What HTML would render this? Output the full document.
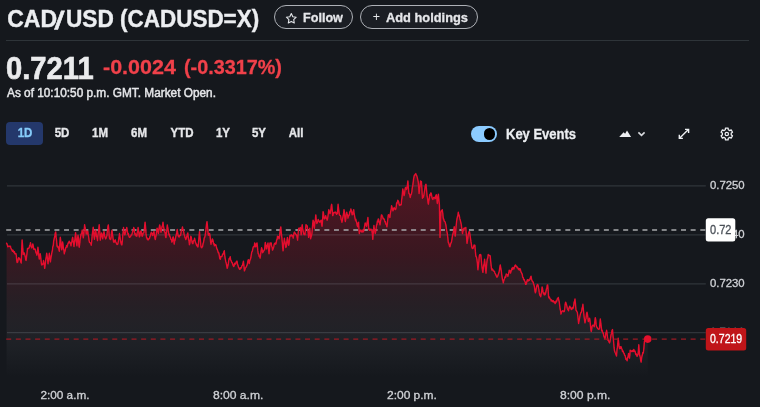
<!DOCTYPE html>
<html lang="en">
<head>
<meta charset="utf-8">
<title>CAD/USD (CADUSD=X)</title>
<style>
*{box-sizing:border-box;margin:0;padding:0}
html,body{width:760px;height:407px;overflow:hidden;background:#15181d}
body{font-family:"Liberation Sans",Arial,sans-serif;color:#e4e6ea;position:relative}
.t{position:absolute;white-space:nowrap;line-height:1;transform-origin:0 0}
.ti{top:7.8px;font-size:23px;font-weight:700;color:#eceef1;-webkit-text-stroke:.4px #eceef1}
#ta{left:7.2px;transform:scaleX(1.0)}
#tb{left:56.2px;top:7.6px;font-size:25px;transform-origin:50% 50%;transform:skewX(-9deg) scaleX(1.1);-webkit-text-stroke:.6px #eceef1}
#tc{left:66.2px;transform:scaleX(.985)}
#title2{left:119.5px;transform:scaleX(.977)}
.pill{position:absolute;top:5.35px;height:23.9px;border:1.35px solid #adb0b6;border-radius:12px;background:#1b1e24}
.pill span{position:absolute;white-space:nowrap;line-height:1;transform-origin:0 0;font-size:13px;font-weight:700;color:#e6e7ea;-webkit-text-stroke:.3px #e6e7ea}
#follow{left:273.6px;width:79.3px}
#add{left:360.4px;width:117.6px}
#hr{position:absolute;left:6.2px;top:39.9px;width:743px;height:1.2px;background:#2e3439}
#price{left:6.1px;top:53.0px;font-size:31.5px;font-weight:700;color:#eaebed;transform:scaleX(.926);-webkit-text-stroke:.65px #eaebed}
#chg{left:102.7px;top:57.3px;font-size:20px;font-weight:700;color:#f0414a;transform:scaleX(1.075);-webkit-text-stroke:.3px #f0414a}
#pct{left:184px;top:57.3px;font-size:20px;font-weight:700;color:#f0414a;transform:scaleX(.99);-webkit-text-stroke:.3px #f0414a}
#asof{left:7px;top:86.8px;font-size:12px;color:#e6e7ea;transform:scaleX(.985);-webkit-text-stroke:.45px #e6e7ea}
.tab{position:absolute;top:120.8px;height:24px;font-size:12.5px;font-weight:700;line-height:24px;text-align:center;color:#e6e7ea;transform:translateX(-50%) scaleX(.92);white-space:nowrap;-webkit-text-stroke:.35px}
#t1dbox{position:absolute;left:6.4px;width:36.9px;top:121.5px;height:23.2px;background:#24386b;border-radius:4px}
#t1d{color:#86ccfa}
#toggle{position:absolute;left:470.5px;top:126.1px;width:26.6px;height:15.7px;border-radius:8px;background:#8ccbff}
#toggle i{position:absolute;right:2px;top:2.1px;width:11.5px;height:11.5px;border-radius:50%;background:#000}
#ke{left:505.7px;top:127px;font-size:14px;font-weight:700;color:#eceef1;transform:scaleX(.928);-webkit-text-stroke:.3px}
svg{position:absolute;left:0;top:0}
.ax{font-family:"Liberation Sans",Arial,sans-serif;font-size:12px;fill:#d0d2d6;stroke:#d0d2d6;stroke-width:.3px}
</style>
</head>
<body>
<h1 style="font:inherit"><span class="t ti" id="ta">CAD</span><span class="t ti" id="tb">/</span><span class="t ti" id="tc">USD</span> <span class="t ti" id="title2">(CADUSD=X)</span></h1>
<div class="pill" id="follow"><span style="left:28.1px;top:4.7px;transform:scaleX(.97)">Follow</span></div>
<div class="pill" id="add"><span style="left:11.3px;top:5px;font-weight:400;font-size:12.5px;-webkit-text-stroke:0">+</span><span style="left:24.8px;top:4.7px;transform:scaleX(.9875)">Add holdings</span></div>
<div id="hr"></div>
<div class="t" id="price">0.7211</div>
<div class="t" id="chg">-0.0024</div>
<div class="t" id="pct">(-0.3317%)</div>
<div class="t" id="asof">As of 10:10:50 p.m. GMT. Market Open.</div>
<div id="t1dbox"></div><div class="tab" id="t1d" style="left:25px">1D</div>
<div class="tab" style="left:62px">5D</div>
<div class="tab" style="left:100px">1M</div>
<div class="tab" style="left:139px">6M</div>
<div class="tab" style="left:182px">YTD</div>
<div class="tab" style="left:223px">1Y</div>
<div class="tab" style="left:259px">5Y</div>
<div class="tab" style="left:296px">All</div>
<div id="toggle"><i></i></div>
<div class="t" id="ke">Key Events</div>
<svg id="chart" width="760" height="407" viewBox="0 0 760 407">
<defs>
<linearGradient id="g" x1="0" y1="175" x2="0" y2="377" gradientUnits="userSpaceOnUse">
<stop offset="0" stop-color="#e8102e" stop-opacity="0.30"/>
<stop offset="0.4" stop-color="#dc142f" stop-opacity="0.18"/>
<stop offset="0.65" stop-color="#a05560" stop-opacity="0.12"/>
<stop offset="0.85" stop-color="#b0b0b8" stop-opacity="0.055"/>
<stop offset="1" stop-color="#b0b0b8" stop-opacity="0"/>
</linearGradient>
<filter id="bl" x="-2%" y="-5%" width="104%" height="110%"><feGaussianBlur stdDeviation="0.45"/></filter>
</defs>
<!-- icons -->
<path d="M291.3 13.6l1.5 3.1 3.4.5-2.5 2.4.6 3.4-3-1.6-3 1.6.6-3.4-2.5-2.4 3.4-.5z" fill="none" stroke="#e4e6ea" stroke-width="1.1" stroke-linejoin="round"/>
<path d="M619.2 137.100L623.600 132.300L625.100 133.800L627 130.500L631.100 137.100z" fill="#eceef1"/>
<path d="M638.400 132.400l3.100 3 3.100-3" fill="none" stroke="#d8dade" stroke-width="1.6"/>
<path d="M679.800 137.950L688.100 129.850M685 129.400h3.600v3.600M682.900 138.400h-3.600v-3.600" fill="none" stroke="#eceef1" stroke-width="1.4"/>
<g fill="none" stroke="#eceef1" stroke-width="1.25" stroke-linejoin="round">
<circle cx="726.8" cy="134.0" r="1.7"/>
<path d="M725.33 129.75L725.45 128.15L728.15 128.15L728.27 129.75L729.75 130.60L731.19 129.91L732.54 132.25L731.22 133.14L731.22 134.86L732.54 135.75L731.19 138.09L729.75 137.40L728.27 138.25L728.15 139.85L725.45 139.85L725.33 138.25L723.85 137.40L722.41 138.09L721.06 135.75L722.38 134.86L722.38 133.14L721.06 132.25L722.41 129.91L723.85 130.60Z"/>
</g>
<g class="ax">
<text x="709.9" y="188.95" style="font-size:11.2px" textLength="34.8" lengthAdjust="spacingAndGlyphs">0.7250</text>
<text x="709.9" y="238.05" style="font-size:11.2px" textLength="34.8" lengthAdjust="spacingAndGlyphs">0.7240</text>
<text x="709.9" y="287.15" style="font-size:11.2px" textLength="34.8" lengthAdjust="spacingAndGlyphs">0.7230</text>
<text x="709.9" y="335.75" style="font-size:11.2px" textLength="34.8" lengthAdjust="spacingAndGlyphs">0.7220</text>
<text x="40.4" y="399.3" style="font-size:11.4px" textLength="49.1" lengthAdjust="spacingAndGlyphs">2:00 a.m.</text>
<text x="212.9" y="399.3" style="font-size:11.4px" textLength="50.5" lengthAdjust="spacingAndGlyphs">8:00 a.m.</text>
<text x="387.0" y="399.3" style="font-size:11.4px" textLength="49.9" lengthAdjust="spacingAndGlyphs">2:00 p.m.</text>
<text x="560.0" y="399.3" style="font-size:11.4px" textLength="50.4" lengthAdjust="spacingAndGlyphs">8:00 p.m.</text>
</g>
<!-- series -->
<path d="M6.6 243.2 L8.2 246.5 L9.9 246.1 L11.9 249.9 L13.9 252.5 L15.9 253.6 L17.2 262.5 L18.6 257.8 L19.9 259.8 L21.2 263.1 L22.1 239.9 L23.2 254.5 L24.5 253.8 L26.1 260.5 L27.5 248.5 L29.2 247.9 L30.5 242.6 L31.8 247.9 L32.8 243.9 L33.8 249.2 L35.5 250.5 L36.9 255.2 L37.9 247.2 L39.3 259.1 L40.2 253.8 L41.4 263.8 L42.7 264.4 L43.5 260.5 L44.7 268.4 L45.8 259.1 L46.7 253.2 L48 263.8 L49.3 253.2 L50.4 261.8 L52.4 250.5 L54.1 239.2 L55.7 231.9 L57 245.9 L58.4 247.9 L59.3 251.2 L60.3 237.3 L61.7 249.9 L62.6 241.9 L64.3 253.8 L65.6 247.9 L67.6 245.2 L69.2 241.2 L71 245.9 L72.7 237.3 L74 246.5 L75.6 232.6 L76.9 245.9 L78 235.3 L79.2 247.2 L80.6 236.6 L82.2 230 L83.3 237.9 L84.6 224.7 L86.2 233.9 L87.8 231.3 L89.1 240.6 L91.2 245.2 L93.2 227.3 L94.4 239.2 L95.5 230 L97.5 240.6 L99.2 224.7 L100.3 240.1 L101.6 232.9 L102.7 238.8 L104 231.5 L105.6 238.8 L106.9 235.5 L108.3 224.9 L109.3 236.8 L110.6 239.5 L112 230.2 L113.6 242.1 L114.9 240.1 L116.2 242.8 L117.8 244.1 L119.5 233.5 L120.6 241.5 L121.9 244.8 L123.5 227.5 L124.8 234.8 L126.8 227.5 L127.9 234.2 L130.1 236.8 L132.1 233.5 L133.7 227.5 L135.1 234.8 L136.8 236.2 L138.1 227.5 L139.4 236.8 L140.8 230.9 L142.1 236.2 L143.8 232.9 L145.1 222.2 L146.5 237.5 L148.1 240.1 L150 236.2 L151.4 232.2 L152.7 235.5 L154 231.5 L155.3 239.5 L157.1 228.2 L158.4 233.5 L159.7 224.9 L161 232.2 L163 222.2 L164.4 231.5 L166 237.5 L167.3 224.9 L168.6 232.9 L169.9 236.8 L171.9 242.1 L173.2 236.8 L174.2 244.1 L175.9 236.2 L177.2 229.5 L178.6 236.8 L180.5 235.5 L182.5 226.9 L184.1 234.2 L185.8 239.5 L187.8 232.9 L189.4 244.8 L190.8 236.2 L192.5 243.5 L194.6 238.2 L196.4 244.8 L198 246.8 L199.5 231.6 L200.9 246.2 L202.2 246.8 L203.9 240.2 L205.6 232.2 L207 221.6 L208.3 234.9 L209.6 233.6 L211 244.2 L212.3 238.9 L214.4 245.8 L215.9 244.8 L217.4 249.7 L218.8 252.7 L219.8 258.6 L221.8 256.6 L224.3 250.7 L225.2 258.6 L227.2 268.4 L228.7 260.6 L230.2 256.6 L231.1 260.6 L233.6 266.5 L235.1 263.5 L237 261.1 L238.5 267.4 L240 269.4 L241.5 267.4 L243.4 261.1 L244.4 270.9 L246.4 266.5 L248.3 259.6 L249.3 263.5 L251.3 254.7 L252.8 248.8 L254.2 246.8 L254.7 242.9 L255.7 246.8 L257 242.9 L258.2 253.7 L260.1 258.1 L261.6 247.8 L262.6 252.7 L264.6 249.7 L265.3 242.4 L266.5 248.8 L268 242.9 L269 253.7 L270 242.9 L271.2 242.9 L272.5 250.1 L274.2 244.2 L276.2 242.9 L277.5 236.2 L279.1 238.9 L280.8 226.9 L282.2 241.5 L283.1 250.8 L284.4 238.2 L285.8 247.5 L286.3 246.7 L287.4 237.4 L288.7 245.4 L290 235.5 L291.6 234.8 L293.2 238.1 L294.5 232.1 L296.3 234.8 L297.6 240.1 L298.7 228.2 L300.3 227.5 L301.2 234.8 L302.2 224.8 L303.6 233.5 L304.9 234.8 L306 224.8 L307.3 226.2 L308.6 237.4 L309.8 228.2 L310.6 238.8 L311.9 233.5 L313.1 220.2 L314.4 228.2 L315.8 214.9 L316.8 223.5 L318.2 219.5 L319.7 222.2 L321.1 220.2 L322.1 226.2 L323.1 211.6 L324.4 218.9 L325.7 215.6 L327.2 220.2 L328.8 209.6 L330.1 213.6 L331.7 204.3 L332.7 215.6 L334.3 212.2 L336.1 212.9 L337.4 213.6 L338.1 204.3 L339.4 214.9 L340.7 216.2 L342 222.2 L344 209.6 L345.3 221.5 L346.7 212.2 L348 218.2 L349.3 214.9 L350.9 208.9 L352.2 214.9 L353.7 209.6 L355 218.2 L356.6 222.2 L357.7 226.8 L358.6 222.2 L359.3 233.5 L360.6 230.1 L361.9 232.1 L363.9 230.1 L365.2 222.9 L366.6 226.2 L367.9 217.5 L368.8 229.5 L370.5 230.1 L371.9 230.8 L372.8 239.4 L373.9 225.5 L375.2 233.5 L377.4 220.9 L378.7 219.5 L380 224.8 L381.4 214.9 L382.7 216.9 L384 218.9 L385.3 221.5 L386.9 226.8 L388.3 214.9 L389.9 217.5 L391.6 205.6 L392.9 210.9 L394.2 207.6 L395.6 209.6 L396.6 203 L397.8 200.3 L399.1 204.3 L401.2 204.8 L402.8 188.9 L404.1 195.5 L405.5 187.5 L406.5 189.5 L407.9 180.9 L408.9 193.5 L410.2 197.5 L411.8 192.2 L413.2 182.2 L414.5 174.9 L415.8 173.6 L417.1 176.9 L418.2 181.6 L419.1 193.5 L420.5 180.9 L421.4 181.6 L422.4 198.2 L423.8 195.5 L425.1 186.9 L426 184.2 L427.1 196.2 L428.4 204.1 L429.7 194.8 L431.1 192.9 L432.4 198.8 L433.7 197.5 L435 198.8 L436.4 194.8 L437.3 203.5 L438.4 194.2 L439.4 204.8 L440 237.4 L440.9 212.2 L442.2 209.6 L443.3 218.9 L444.6 221.5 L446 225.5 L447.3 233.5 L448.3 242.7 L449.9 246.7 L451.3 242.7 L452.6 234.8 L454.2 226.8 L455.2 236.1 L456.6 221.5 L458.3 212.2 L459.9 218.9 L461.2 224.2 L462.5 233.5 L463.9 228.2 L465.8 227.5 L467 243.3 L468.3 234 L469.6 232 L471 241.9 L472.3 248.6 L473.6 246.6 L474.9 245.3 L475.9 256.5 L476.9 259.2 L477.9 269.8 L479.3 255.9 L480.9 255.2 L482 267.1 L482.9 272.4 L484.6 259.2 L486 273.1 L486.9 261.8 L488.2 254.5 L490.2 255.9 L491.5 268.5 L492.9 269.8 L494.4 271.1 L497.3 276.9 L498.6 273.6 L500.3 265 L501.7 274.3 L503.3 282.9 L504.9 277.6 L506.6 274.3 L507.9 276.3 L509.2 270.3 L510.6 273 L511.9 268.3 L513.9 269 L515.5 265 L517.2 267.7 L518.5 269.6 L520.2 269 L521.8 273.6 L523.2 277.6 L524.7 280.9 L526.1 284.2 L527.8 279.6 L529.4 280.3 L531.1 276.3 L532.4 281.6 L534 284.9 L535.4 292.9 L536.7 286.2 L538 284.9 L539.3 292.9 L540.7 296.8 L542.1 286.9 L543.4 293.5 L545 294.8 L546.4 288.9 L547.7 284.9 L548.6 296.8 L549.9 298.8 L551.7 300.1 L553.7 301.5 L555.6 302.8 L557 300.1 L558.3 297.5 L559.6 304.8 L561 314.1 L562.7 310.8 L564.3 311.4 L565.6 302.1 L566.9 306.1 L568.5 310.8 L569.8 306.1 L571.3 309.6 L572.9 308.3 L575 299 L576 310.3 L577.3 312.2 L578.6 323.5 L579.9 316.2 L581.3 312.2 L582.9 304.3 L583.9 314.9 L585 322.9 L587 312.2 L588.3 321.5 L589.6 318.2 L591.2 331.5 L592.5 325.5 L594.2 326.9 L595.3 317.7 L596.6 326.9 L598.2 328.9 L599.5 328.3 L600.3 319 L601.7 330.9 L603.3 332.9 L604.9 338.9 L606.6 330.3 L607.9 340.2 L609.6 342.9 L611 334.9 L612.5 329.6 L613.6 341.5 L614.5 350.8 L616.5 356.1 L618.2 338.2 L619.4 348.2 L621.2 346.8 L622.5 351.5 L624.2 353.5 L625.5 357.4 L627.1 360.8 L628.5 353.5 L629.5 358.1 L630.2 350.1 L631.8 351.5 L633.8 349.5 L635.4 352.8 L636.7 355.5 L638 354.8 L638.8 344.8 L639.7 355.5 L641.1 362.1 L642.4 354.8 L643.7 350.1 L644.4 341.5 L645.7 339.5 L647.7 339.1 L647.7 377 L6.6 377 Z" fill="url(#g)"/>
<!-- grid -->
<g stroke="#d4e2f0" stroke-opacity=".14" stroke-width="1.3">
<line x1="7" y1="185.9" x2="705.8" y2="185.9"/>
<line x1="7" y1="234.9" x2="705.8" y2="234.9"/>
<line x1="7" y1="283.9" x2="705.8" y2="283.9"/>
<line x1="7" y1="332.6" x2="705.8" y2="332.6"/>
</g>
<line x1="6.2" y1="229.9" x2="706" y2="229.9" stroke="#a6a8ab" stroke-width="1.5" stroke-dasharray="5 4.64"/>
<path d="M6.6 243.2 L7 243.9 L7.4 245.01 L7.8 246.78 L8.2 246.5 L8.62 246.31 L9.05 246.32 L9.47 246.43 L9.9 246.1 L10.4 246.23 L10.9 248.03 L11.4 249.29 L11.9 249.9 L12.4 251.31 L12.9 250.14 L13.4 251.34 L13.9 252.5 L14.4 251.71 L14.9 253.86 L15.4 253.83 L15.9 253.6 L16.33 255.38 L16.77 260.79 L17.2 262.5 L17.67 262.14 L18.13 259.77 L18.6 257.8 L19.03 258.77 L19.47 258.24 L19.9 259.8 L20.33 259.64 L20.77 262.07 L21.2 263.1 L21.65 250.35 L22.1 239.9 L22.65 246.39 L23.2 254.5 L23.63 253.6 L24.07 252.81 L24.5 253.8 L24.9 255.38 L25.3 257 L25.7 259.72 L26.1 260.5 L26.57 256.55 L27.03 252.86 L27.5 248.5 L27.93 248.35 L28.35 248.62 L28.77 247.94 L29.2 247.9 L29.63 245.56 L30.07 245.66 L30.5 242.6 L30.93 245.66 L31.37 247.02 L31.8 247.9 L32.3 246.44 L32.8 243.9 L33.3 246.07 L33.8 249.2 L34.22 248.82 L34.65 249.3 L35.08 249.06 L35.5 250.5 L35.97 252.76 L36.43 253.37 L36.9 255.2 L37.4 252.1 L37.9 247.2 L38.37 250.87 L38.83 256.32 L39.3 259.1 L39.75 257.35 L40.2 253.8 L40.6 255.83 L41 259.71 L41.4 263.8 L41.83 265.07 L42.27 264.12 L42.7 264.4 L43.1 263.7 L43.5 260.5 L43.9 262.87 L44.3 264.66 L44.7 268.4 L45.25 264.09 L45.8 259.1 L46.25 256.87 L46.7 253.2 L47.13 256.13 L47.57 259.19 L48 263.8 L48.43 259.83 L48.87 257.94 L49.3 253.2 L49.85 258.17 L50.4 261.8 L50.9 257.98 L51.4 255.49 L51.9 252.29 L52.4 250.5 L52.83 246.53 L53.25 245.62 L53.67 241.19 L54.1 239.2 L54.5 237.53 L54.9 235.41 L55.3 232.92 L55.7 231.9 L56.13 237.17 L56.57 240.27 L57 245.9 L57.47 246.94 L57.93 246.24 L58.4 247.9 L58.85 249.34 L59.3 251.2 L59.8 243.5 L60.3 237.3 L60.77 240.9 L61.23 246.92 L61.7 249.9 L62.15 246.69 L62.6 241.9 L63.02 244.37 L63.45 248.85 L63.88 250.07 L64.3 253.8 L64.73 251.56 L65.17 250.79 L65.6 247.9 L66.1 247.59 L66.6 245.51 L67.1 247.15 L67.6 245.2 L68 243.45 L68.4 242.57 L68.8 242.91 L69.2 241.2 L69.65 241.93 L70.1 243.02 L70.55 243.62 L71 245.9 L71.42 242.68 L71.85 241.82 L72.28 238.78 L72.7 237.3 L73.13 240.63 L73.57 243.1 L74 246.5 L74.4 242.9 L74.8 240.74 L75.2 236.03 L75.6 232.6 L76.03 237.23 L76.47 242.42 L76.9 245.9 L77.45 239.78 L78 235.3 L78.4 238.37 L78.8 244.3 L79.2 247.2 L79.67 244.49 L80.13 239.48 L80.6 236.6 L81 234.14 L81.4 233.92 L81.8 232.8 L82.2 230 L82.75 233.16 L83.3 237.9 L83.73 234.67 L84.17 230.09 L84.6 224.7 L85 227.27 L85.4 229.1 L85.8 230.57 L86.2 233.9 L86.6 232.05 L87 233.8 L87.4 231.27 L87.8 231.3 L88.23 234.93 L88.67 236.87 L89.1 240.6 L89.52 242.36 L89.94 242.69 L90.36 242.82 L90.78 243.44 L91.2 245.2 L91.7 241.3 L92.2 235.13 L92.7 231.07 L93.2 227.3 L93.6 231.42 L94 236.15 L94.4 239.2 L94.95 234.9 L95.5 230 L96 232.08 L96.5 236.39 L97 237.18 L97.5 240.6 L97.92 235.37 L98.35 232.05 L98.78 228.53 L99.2 224.7 L99.75 231.26 L100.3 240.1 L100.73 236.86 L101.17 234.96 L101.6 232.9 L102.15 236.04 L102.7 238.8 L103.13 235.41 L103.57 233.57 L104 231.5 L104.4 234.34 L104.8 236.4 L105.2 237.38 L105.6 238.8 L106.03 238.2 L106.47 236.82 L106.9 235.5 L107.37 231.03 L107.83 227.22 L108.3 224.9 L108.8 229.6 L109.3 236.8 L109.73 238.77 L110.17 239.12 L110.6 239.5 L111.07 237.6 L111.53 232.06 L112 230.2 L112.4 233.53 L112.8 236.1 L113.2 239.72 L113.6 242.1 L114.03 240.96 L114.47 242.06 L114.9 240.1 L115.33 239.9 L115.77 242.02 L116.2 242.8 L116.6 243.74 L117 244.49 L117.4 244.39 L117.8 244.1 L118.22 241.98 L118.65 239.56 L119.08 237.23 L119.5 233.5 L120.05 237.11 L120.6 241.5 L121.03 243.08 L121.47 244.74 L121.9 244.8 L122.3 241.44 L122.7 235.93 L123.1 232.58 L123.5 227.5 L123.93 230.88 L124.37 232.56 L124.8 234.8 L125.3 233.3 L125.8 230.84 L126.3 229.54 L126.8 227.5 L127.35 231.13 L127.9 234.2 L128.34 233.63 L128.78 235.6 L129.22 237.04 L129.66 237.27 L130.1 236.8 L130.6 236.57 L131.1 234.86 L131.6 234.94 L132.1 233.5 L132.5 232.21 L132.9 230.35 L133.3 229.88 L133.7 227.5 L134.17 228.85 L134.63 233.02 L135.1 234.8 L135.53 233.93 L135.95 235.76 L136.38 235.8 L136.8 236.2 L137.23 232.6 L137.67 230.92 L138.1 227.5 L138.53 230.59 L138.97 234 L139.4 236.8 L139.87 235.93 L140.33 232.23 L140.8 230.9 L141.23 231.4 L141.67 233.92 L142.1 236.2 L142.53 235.84 L142.95 233.78 L143.38 232.87 L143.8 232.9 L144.23 230.39 L144.67 226.18 L145.1 222.2 L145.57 227.15 L146.03 233.42 L146.5 237.5 L146.9 237.7 L147.3 239.23 L147.7 238.67 L148.1 240.1 L148.57 238.95 L149.05 238.95 L149.53 238.25 L150 236.2 L150.47 235.86 L150.93 233.23 L151.4 232.2 L151.83 233.52 L152.27 233.92 L152.7 235.5 L153.13 233.22 L153.57 232.82 L154 231.5 L154.43 235.04 L154.87 237.74 L155.3 239.5 L155.75 237.22 L156.2 235.02 L156.65 230.44 L157.1 228.2 L157.53 229.11 L157.97 231.61 L158.4 233.5 L158.83 230.05 L159.27 227.02 L159.7 224.9 L160.13 227.11 L160.57 230.09 L161 232.2 L161.5 229.68 L162 226.72 L162.5 225.58 L163 222.2 L163.47 226.55 L163.93 228.28 L164.4 231.5 L164.8 231.89 L165.2 233.28 L165.6 236.97 L166 237.5 L166.43 232.11 L166.87 229.64 L167.3 224.9 L167.73 227.75 L168.17 229.74 L168.6 232.9 L169.03 234.96 L169.47 234.25 L169.9 236.8 L170.4 237.18 L170.9 239.33 L171.4 239.54 L171.9 242.1 L172.33 241.19 L172.77 237.88 L173.2 236.8 L173.7 239.52 L174.2 244.1 L174.62 240.95 L175.05 240.49 L175.47 238.04 L175.9 236.2 L176.33 234.3 L176.77 232.14 L177.2 229.5 L177.67 232.73 L178.13 235.56 L178.6 236.8 L179.07 236.95 L179.55 235.37 L180.03 235.76 L180.5 235.5 L181 232.51 L181.5 229.93 L182 228.98 L182.5 226.9 L182.9 229.28 L183.3 229.72 L183.7 231.78 L184.1 234.2 L184.53 235.12 L184.95 237.36 L185.38 238.23 L185.8 239.5 L186.3 238.15 L186.8 236.87 L187.3 234.27 L187.8 232.9 L188.2 236.63 L188.6 239.91 L189 240.75 L189.4 244.8 L189.87 243.06 L190.33 239.64 L190.8 236.2 L191.23 237.06 L191.65 239.73 L192.07 242 L192.5 243.5 L192.92 243.51 L193.34 241.06 L193.76 240.5 L194.18 240.25 L194.6 238.2 L195.05 240.62 L195.5 242.66 L195.95 243.06 L196.4 244.8 L196.8 245.69 L197.2 245.03 L197.6 246.88 L198 246.8 L198.5 242.56 L199 237.03 L199.5 231.6 L199.97 237.03 L200.43 240.59 L200.9 246.2 L201.33 247.44 L201.77 247.85 L202.2 246.8 L202.62 246.39 L203.05 243.6 L203.47 242.61 L203.9 240.2 L204.32 237.73 L204.75 237.27 L205.18 235.13 L205.6 232.2 L206.07 228.27 L206.53 224.05 L207 221.6 L207.43 225.88 L207.87 230.6 L208.3 234.9 L208.73 235.16 L209.17 234 L209.6 233.6 L210.07 235.91 L210.53 241.47 L211 244.2 L211.43 241.3 L211.87 241.45 L212.3 238.9 L212.72 239.43 L213.14 241.23 L213.56 243.79 L213.98 243.49 L214.4 245.8 L214.9 244.55 L215.4 245.18 L215.9 244.8 L216.4 247.01 L216.9 248.95 L217.4 249.7 L217.87 251.19 L218.33 252.86 L218.8 252.7 L219.3 255.63 L219.8 258.6 L220.3 259.27 L220.8 256.52 L221.3 256.38 L221.8 256.6 L222.22 255.69 L222.63 254.09 L223.05 254.24 L223.47 253.03 L223.88 251.74 L224.3 250.7 L224.75 255.54 L225.2 258.6 L225.7 261.21 L226.2 263.01 L226.7 265.64 L227.2 268.4 L227.7 266.7 L228.2 264.24 L228.7 260.6 L229.2 258.51 L229.7 258.85 L230.2 256.6 L230.65 259.82 L231.1 260.6 L231.52 261.65 L231.93 262.76 L232.35 262.77 L232.77 264.63 L233.18 265.52 L233.6 266.5 L234.1 265.77 L234.6 263.27 L235.1 263.5 L235.57 264.12 L236.05 262.34 L236.53 261.44 L237 261.1 L237.5 263.98 L238 265.46 L238.5 267.4 L239 268.04 L239.5 269.23 L240 269.4 L240.5 267.6 L241 268.17 L241.5 267.4 L241.97 265.6 L242.45 265.44 L242.93 263.78 L243.4 261.1 L243.9 265.4 L244.4 270.9 L244.9 269.73 L245.4 267.73 L245.9 267.43 L246.4 266.5 L246.88 265.6 L247.35 264.09 L247.83 261.26 L248.3 259.6 L248.8 261.07 L249.3 263.5 L249.8 260.5 L250.3 259.41 L250.8 258.01 L251.3 254.7 L251.8 251.77 L252.3 251.49 L252.8 248.8 L253.27 246.89 L253.73 246.67 L254.2 246.8 L254.7 242.9 L255.2 244.14 L255.7 246.8 L256.13 245.99 L256.57 243.74 L257 242.9 L257.4 246.12 L257.8 250.41 L258.2 253.7 L258.68 253.77 L259.15 256.5 L259.62 256.02 L260.1 258.1 L260.6 254.69 L261.1 250.58 L261.6 247.8 L262.1 249.46 L262.6 252.7 L263.1 252.03 L263.6 251.04 L264.1 250.13 L264.6 249.7 L264.95 245.82 L265.3 242.4 L265.7 244.61 L266.1 245.78 L266.5 248.8 L267 246.06 L267.5 245.21 L268 242.9 L268.5 248.66 L269 253.7 L269.5 248.38 L270 242.9 L270.4 243.81 L270.8 243.19 L271.2 242.9 L271.63 246.23 L272.07 247 L272.5 250.1 L272.93 249.25 L273.35 247.96 L273.77 246.72 L274.2 244.2 L274.7 243.4 L275.2 243.07 L275.7 244.32 L276.2 242.9 L276.63 239.93 L277.07 239.73 L277.5 236.2 L277.9 237.88 L278.3 236.6 L278.7 237.55 L279.1 238.9 L279.53 236.49 L279.95 232.27 L280.38 228.85 L280.8 226.9 L281.27 232.63 L281.73 236.43 L282.2 241.5 L282.65 246.9 L283.1 250.8 L283.53 245.63 L283.97 242.15 L284.4 238.2 L284.87 241.78 L285.33 243.15 L285.8 247.5 L286.3 246.7 L286.85 241.27 L287.4 237.4 L287.83 240.54 L288.27 243.8 L288.7 245.4 L289.13 243.32 L289.57 237.8 L290 235.5 L290.4 235.34 L290.8 235.82 L291.2 234.98 L291.6 234.8 L292 236.11 L292.4 235.64 L292.8 236.16 L293.2 238.1 L293.63 235.08 L294.07 232.9 L294.5 232.1 L294.95 232.91 L295.4 233.49 L295.85 234.3 L296.3 234.8 L296.73 235.65 L297.17 237.51 L297.6 240.1 L298.15 233.38 L298.7 228.2 L299.1 228.91 L299.5 229.12 L299.9 228.78 L300.3 227.5 L300.75 230.1 L301.2 234.8 L301.7 228.66 L302.2 224.8 L302.67 228.87 L303.13 230.5 L303.6 233.5 L304.03 234.62 L304.47 233.92 L304.9 234.8 L305.45 229.71 L306 224.8 L306.43 225.31 L306.87 225.55 L307.3 226.2 L307.73 230.2 L308.17 232.4 L308.6 237.4 L309 234.86 L309.4 232.16 L309.8 228.2 L310.2 232.67 L310.6 238.8 L311.03 236.91 L311.47 235.89 L311.9 233.5 L312.3 228.82 L312.7 223.84 L313.1 220.2 L313.53 222 L313.97 225.57 L314.4 228.2 L314.87 222.51 L315.33 220.36 L315.8 214.9 L316.3 219.98 L316.8 223.5 L317.27 222.7 L317.73 221.77 L318.2 219.5 L318.7 220.74 L319.2 221.05 L319.7 222.2 L320.17 221.79 L320.63 220.88 L321.1 220.2 L321.6 224.45 L322.1 226.2 L322.6 219.69 L323.1 211.6 L323.53 213.4 L323.97 217.54 L324.4 218.9 L324.83 218.44 L325.27 217.42 L325.7 215.6 L326.2 217.95 L326.7 218.42 L327.2 220.2 L327.6 218.58 L328 215.89 L328.4 212.76 L328.8 209.6 L329.23 211.63 L329.67 212.96 L330.1 213.6 L330.5 211.03 L330.9 209.53 L331.3 205.51 L331.7 204.3 L332.2 209.54 L332.7 215.6 L333.1 214.67 L333.5 212.63 L333.9 212.67 L334.3 212.2 L334.75 212.74 L335.2 212.87 L335.65 212.03 L336.1 212.9 L336.53 214.29 L336.97 213.8 L337.4 213.6 L337.75 208.53 L338.1 204.3 L338.53 208.25 L338.97 211.55 L339.4 214.9 L339.83 215.42 L340.27 215.48 L340.7 216.2 L341.13 219.5 L341.57 220.57 L342 222.2 L342.5 219.57 L343 216.58 L343.5 214 L344 209.6 L344.43 212.33 L344.87 217.83 L345.3 221.5 L345.77 219.02 L346.23 214.67 L346.7 212.2 L347.13 213.94 L347.57 215.03 L348 218.2 L348.43 216.31 L348.87 215.68 L349.3 214.9 L349.7 212.36 L350.1 211.25 L350.5 211.45 L350.9 208.9 L351.33 211.03 L351.77 212.92 L352.2 214.9 L352.7 214.35 L353.2 211.54 L353.7 209.6 L354.13 213.75 L354.57 215.69 L355 218.2 L355.4 220 L355.8 219.1 L356.2 221.45 L356.6 222.2 L357.15 225.17 L357.7 226.8 L358.15 223.32 L358.6 222.2 L358.95 228.97 L359.3 233.5 L359.73 231.48 L360.17 231.16 L360.6 230.1 L361.03 229.91 L361.47 231.42 L361.9 232.1 L362.4 231.89 L362.9 229.95 L363.4 231.76 L363.9 230.1 L364.33 227.49 L364.77 225.37 L365.2 222.9 L365.67 224.25 L366.13 224.75 L366.6 226.2 L367.03 222.74 L367.47 220.8 L367.9 217.5 L368.35 223.66 L368.8 229.5 L369.23 229.09 L369.65 230.36 L370.07 229.42 L370.5 230.1 L370.97 229.07 L371.43 229.9 L371.9 230.8 L372.35 233.91 L372.8 239.4 L373.35 231.56 L373.9 225.5 L374.33 228.83 L374.77 230.55 L375.2 233.5 L375.64 232.01 L376.08 229.11 L376.52 224.77 L376.96 224.69 L377.4 220.9 L377.83 221.59 L378.27 218.86 L378.7 219.5 L379.13 222.32 L379.57 222.85 L380 224.8 L380.47 221.44 L380.93 219.43 L381.4 214.9 L381.83 214.9 L382.27 216.29 L382.7 216.9 L383.13 218.7 L383.57 218.81 L384 218.9 L384.43 219.68 L384.87 221.88 L385.3 221.5 L385.7 223.65 L386.1 224.42 L386.5 224.47 L386.9 226.8 L387.37 223.16 L387.83 218.75 L388.3 214.9 L388.7 214.78 L389.1 215.04 L389.5 216.92 L389.9 217.5 L390.32 213.55 L390.75 211.4 L391.18 209.01 L391.6 205.6 L392.03 207.25 L392.47 208.51 L392.9 210.9 L393.33 210.01 L393.77 208.49 L394.2 207.6 L394.67 208.99 L395.13 209.01 L395.6 209.6 L396.1 207.59 L396.6 203 L397 203.28 L397.4 201.81 L397.8 200.3 L398.23 200.95 L398.67 201.96 L399.1 204.3 L399.52 205.42 L399.94 205.24 L400.36 204.92 L400.78 204.33 L401.2 204.8 L401.6 200.23 L402 197.33 L402.4 193.04 L402.8 188.9 L403.23 191.34 L403.67 193.65 L404.1 195.5 L404.57 193.49 L405.03 189.36 L405.5 187.5 L406 187.85 L406.5 189.5 L406.97 187.88 L407.43 184.85 L407.9 180.9 L408.4 188.18 L408.9 193.5 L409.33 193.64 L409.77 195.02 L410.2 197.5 L410.6 195.58 L411 194.66 L411.4 193.85 L411.8 192.2 L412.27 187.83 L412.73 185.64 L413.2 182.2 L413.63 178.66 L414.07 176.26 L414.5 174.9 L414.93 174.92 L415.37 174.16 L415.8 173.6 L416.23 175.04 L416.67 175.47 L417.1 176.9 L417.65 179.19 L418.2 181.6 L418.65 186.8 L419.1 193.5 L419.57 188.89 L420.03 185.74 L420.5 180.9 L420.95 182.13 L421.4 181.6 L421.9 188.79 L422.4 198.2 L422.87 196.31 L423.33 197.2 L423.8 195.5 L424.23 192.96 L424.67 190.47 L425.1 186.9 L425.55 184.8 L426 184.2 L426.55 190 L427.1 196.2 L427.53 198.2 L427.97 202.27 L428.4 204.1 L428.83 200.66 L429.27 198.3 L429.7 194.8 L430.17 195.44 L430.63 193.08 L431.1 192.9 L431.53 194.99 L431.97 197.47 L432.4 198.8 L432.83 199.46 L433.27 197.75 L433.7 197.5 L434.13 197.59 L434.57 197.32 L435 198.8 L435.47 198.44 L435.93 195.04 L436.4 194.8 L436.85 198.07 L437.3 203.5 L437.85 199.02 L438.4 194.2 L438.9 199.46 L439.4 204.8 L440 237.4 L440.45 225.28 L440.9 212.2 L441.33 210.81 L441.77 211.18 L442.2 209.6 L442.75 213.15 L443.3 218.9 L443.73 219.02 L444.17 221.05 L444.6 221.5 L445.07 221.75 L445.53 223.66 L446 225.5 L446.43 228.75 L446.87 231.34 L447.3 233.5 L447.8 237.54 L448.3 242.7 L448.7 242.77 L449.1 244.33 L449.5 246.29 L449.9 246.7 L450.37 245.02 L450.83 243.04 L451.3 242.7 L451.73 240.61 L452.17 237.61 L452.6 234.8 L453 233.89 L453.4 231.94 L453.8 229.87 L454.2 226.8 L454.7 231.29 L455.2 236.1 L455.67 232.02 L456.13 225.86 L456.6 221.5 L457.03 218.7 L457.45 216.59 L457.88 215.66 L458.3 212.2 L458.7 214.9 L459.1 214.9 L459.5 216.87 L459.9 218.9 L460.33 220.32 L460.77 222.08 L461.2 224.2 L461.63 227.03 L462.07 230.11 L462.5 233.5 L462.97 230.94 L463.43 230.13 L463.9 228.2 L464.38 228.8 L464.85 227.96 L465.32 228.55 L465.8 227.5 L466.2 232.93 L466.6 237.19 L467 243.3 L467.43 240.87 L467.87 238.09 L468.3 234 L468.73 232.77 L469.17 231.42 L469.6 232 L470.07 235.34 L470.53 238.71 L471 241.9 L471.43 244.31 L471.87 247.58 L472.3 248.6 L472.73 248.33 L473.17 248.06 L473.6 246.6 L474.03 245.03 L474.47 245.86 L474.9 245.3 L475.4 251.65 L475.9 256.5 L476.4 256.77 L476.9 259.2 L477.4 263.41 L477.9 269.8 L478.37 265.78 L478.83 261.57 L479.3 255.9 L479.7 254.65 L480.1 255.9 L480.5 254.45 L480.9 255.2 L481.45 261.79 L482 267.1 L482.45 270.14 L482.9 272.4 L483.32 268.44 L483.75 265.07 L484.18 263.19 L484.6 259.2 L485.07 263.89 L485.53 269.15 L486 273.1 L486.45 267.18 L486.9 261.8 L487.33 258.94 L487.77 258.15 L488.2 254.5 L488.7 255.3 L489.2 255.18 L489.7 255.65 L490.2 255.9 L490.63 260.67 L491.07 264.84 L491.5 268.5 L491.97 270.01 L492.43 269.13 L492.9 269.8 L493.4 271.08 L493.9 271.1 L494.4 271.1 L494.88 272.99 L495.37 273.83 L495.85 274.87 L496.33 275.98 L496.82 277.12 L497.3 276.9 L497.73 276.16 L498.17 274.76 L498.6 273.6 L499.03 272 L499.45 270.09 L499.88 266.95 L500.3 265 L500.77 267.89 L501.23 270.28 L501.7 274.3 L502.1 277.08 L502.5 279.88 L502.9 280.43 L503.3 282.9 L503.7 280.71 L504.1 279.48 L504.5 278.73 L504.9 277.6 L505.32 276.23 L505.75 277.17 L506.18 273.98 L506.6 274.3 L507.03 274.47 L507.47 274.63 L507.9 276.3 L508.33 274.68 L508.77 273.02 L509.2 270.3 L509.67 270.37 L510.13 270.96 L510.6 273 L511.03 271.33 L511.47 270.09 L511.9 268.3 L512.4 269.54 L512.9 267.44 L513.4 267.81 L513.9 269 L514.3 267.18 L514.7 266.27 L515.1 265.31 L515.5 265 L515.92 266.24 L516.35 266.6 L516.78 266.31 L517.2 267.7 L517.63 267.51 L518.07 268.4 L518.5 269.6 L518.92 268.6 L519.35 269.97 L519.78 268.66 L520.2 269 L520.6 270.28 L521 272.12 L521.4 272.4 L521.8 273.6 L522.27 274.31 L522.73 277.27 L523.2 277.6 L523.7 279.78 L524.2 279.39 L524.7 280.9 L525.17 282.12 L525.63 284.29 L526.1 284.2 L526.52 283 L526.95 281.17 L527.38 279.58 L527.8 279.6 L528.2 280.94 L528.6 280.73 L529 279.83 L529.4 280.3 L529.83 279.37 L530.25 278.34 L530.67 276.71 L531.1 276.3 L531.53 279.34 L531.97 280.24 L532.4 281.6 L532.8 281.74 L533.2 281.98 L533.6 284 L534 284.9 L534.47 287.23 L534.93 291 L535.4 292.9 L535.83 291.22 L536.27 288.71 L536.7 286.2 L537.13 284.88 L537.57 284.44 L538 284.9 L538.43 287.1 L538.87 289.61 L539.3 292.9 L539.77 295.16 L540.23 295.54 L540.7 296.8 L541.17 293.86 L541.63 291.48 L542.1 286.9 L542.53 288.49 L542.97 291.39 L543.4 293.5 L543.8 292.92 L544.2 294.85 L544.6 293.18 L545 294.8 L545.47 293.67 L545.93 291.77 L546.4 288.9 L546.83 288.4 L547.27 285.15 L547.7 284.9 L548.15 290.25 L548.6 296.8 L549.03 298.03 L549.47 297.09 L549.9 298.8 L550.35 299.07 L550.8 299.37 L551.25 300.96 L551.7 300.1 L552.2 300.68 L552.7 301.73 L553.2 300.64 L553.7 301.5 L554.18 302.58 L554.65 301.93 L555.12 303.56 L555.6 302.8 L556.07 300.84 L556.53 301.85 L557 300.1 L557.43 298.48 L557.87 298.48 L558.3 297.5 L558.73 300 L559.17 301.48 L559.6 304.8 L560.07 308.76 L560.53 310.51 L561 314.1 L561.42 312.78 L561.85 311.35 L562.28 311.12 L562.7 310.8 L563.1 310.86 L563.5 311.66 L563.9 310.89 L564.3 311.4 L564.73 308.79 L565.17 304.17 L565.6 302.1 L566.03 303.16 L566.47 304.67 L566.9 306.1 L567.3 308.49 L567.7 309.31 L568.1 310.03 L568.5 310.8 L568.93 307.97 L569.37 307.35 L569.8 306.1 L570.3 307.81 L570.8 307.75 L571.3 309.6 L571.7 309.44 L572.1 308.84 L572.5 307.35 L572.9 308.3 L573.32 307.72 L573.74 305.36 L574.16 301.96 L574.58 301.16 L575 299 L575.5 304.11 L576 310.3 L576.43 310.61 L576.87 311.67 L577.3 312.2 L577.73 315.44 L578.17 319.31 L578.6 323.5 L579.03 320.79 L579.47 319.07 L579.9 316.2 L580.37 314.23 L580.83 312.75 L581.3 312.2 L581.7 310.83 L582.1 307.81 L582.5 307.43 L582.9 304.3 L583.4 309.76 L583.9 314.9 L584.45 319.48 L585 322.9 L585.5 319.79 L586 318.4 L586.5 313.81 L587 312.2 L587.43 314.37 L587.87 317.35 L588.3 321.5 L588.73 320.86 L589.17 319.84 L589.6 318.2 L590 320.69 L590.4 324.6 L590.8 329.05 L591.2 331.5 L591.63 329.74 L592.07 326.43 L592.5 325.5 L592.92 325.14 L593.35 325.31 L593.78 325.57 L594.2 326.9 L594.75 322.06 L595.3 317.7 L595.73 319.66 L596.17 324.93 L596.6 326.9 L597 327.21 L597.4 327.93 L597.8 328.78 L598.2 328.9 L598.63 329.39 L599.07 329.33 L599.5 328.3 L599.9 323.35 L600.3 319 L600.77 322.53 L601.23 326.7 L601.7 330.9 L602.1 330.14 L602.5 331.64 L602.9 332.92 L603.3 332.9 L603.7 335.65 L604.1 336.65 L604.5 337.82 L604.9 338.9 L605.33 337.03 L605.75 333.35 L606.17 332.01 L606.6 330.3 L607.03 333.19 L607.47 337.29 L607.9 340.2 L608.33 339.85 L608.75 341.23 L609.17 342.25 L609.6 342.9 L610.07 340.98 L610.53 338.41 L611 334.9 L611.5 333.42 L612 330.48 L612.5 329.6 L613.05 336.24 L613.6 341.5 L614.05 347.2 L614.5 350.8 L615 352.25 L615.5 353.07 L616 354.78 L616.5 356.1 L616.92 350.69 L617.35 347.7 L617.78 343.94 L618.2 338.2 L618.6 341.58 L619 345.43 L619.4 348.2 L619.85 348.72 L620.3 346.71 L620.75 348.31 L621.2 346.8 L621.63 348.7 L622.07 349.15 L622.5 351.5 L622.92 350.92 L623.35 351.84 L623.78 353.2 L624.2 353.5 L624.63 355.31 L625.07 355.66 L625.5 357.4 L625.9 359.37 L626.3 358.74 L626.7 359.85 L627.1 360.8 L627.57 357.39 L628.03 357.16 L628.5 353.5 L629 354.85 L629.5 358.1 L629.85 355.15 L630.2 350.1 L630.6 350.56 L631 350.96 L631.4 351.31 L631.8 351.5 L632.3 350.39 L632.8 351.56 L633.3 351.28 L633.8 349.5 L634.2 351.15 L634.6 351.41 L635 350.99 L635.4 352.8 L635.83 354.54 L636.27 354.05 L636.7 355.5 L637.13 356.3 L637.57 354.36 L638 354.8 L638.4 349.99 L638.8 344.8 L639.25 351.01 L639.7 355.5 L640.17 356.88 L640.63 360.02 L641.1 362.1 L641.53 358.56 L641.97 356.02 L642.4 354.8 L642.83 352.4 L643.27 352.93 L643.7 350.1 L644.05 345.8 L644.4 341.5 L644.83 340.83 L645.27 340.17 L645.7 339.5 L646.2 339.4 L646.7 339.3 L647.2 339.2 L647.7 339.1" fill="none" stroke="#e50f2d" stroke-width="1.4" filter="url(#bl)" stroke-linejoin="round" stroke-linecap="round"/>
<line x1="6.2" y1="339.1" x2="706" y2="339.1" stroke="#9c1a24" stroke-width="1.1" stroke-dasharray="5 4.64"/>
<circle cx="647.7" cy="339.1" r="3.8" fill="#e3102c"/>
<!-- labels -->
<rect x="705.8" y="218.3" width="29.5" height="23.2" rx="2.5" fill="#ffffff"/>
<text x="710" y="233.9" font-family="Liberation Sans, Arial, sans-serif" font-size="12" fill="#4a5058" stroke="#4a5058" stroke-width=".3" textLength="21.5" lengthAdjust="spacingAndGlyphs">0.72</text>
<rect x="705.8" y="327.9" width="40.4" height="22.6" rx="2.5" fill="#c01519"/>
<text x="710" y="342.5" font-family="Liberation Sans, Arial, sans-serif" font-size="12" fill="#ffffff" stroke="#ffffff" stroke-width="0.3" textLength="32.2" lengthAdjust="spacingAndGlyphs">0.7219</text>
</svg>
</body>
</html>
